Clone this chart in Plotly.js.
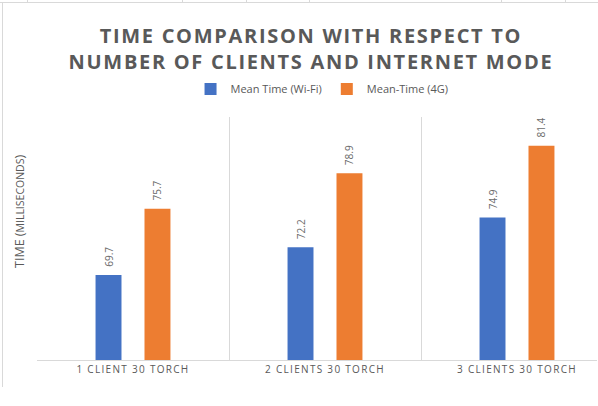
<!DOCTYPE html>
<html>
<head>
<meta charset="utf-8">
<script src="https://cdn.plot.ly/plotly-3.0.1.min.js"></script>
<style>
  html, body { margin: 0; padding: 0; background: #fff; }
  #wrap { position: relative; width: 598px; height: 406px; overflow: hidden; }
  #chart { position: absolute; left: 0; top: 0; width: 598px; height: 406px; }
  .gtitle { letter-spacing: 1.7px; }
  .xtick text { letter-spacing: 1.3px; }
  .deco { position: absolute; background: #d9d9d9; z-index: 5; }
</style>
</head>
<body>
<div id="wrap">
  <div id="chart"></div>
  <div class="deco" style="left:0;top:2px;width:598px;height:1px;"></div>
  <div class="deco" style="left:2px;top:2px;width:1px;height:385px;"></div>
  <div class="deco" style="left:27px;top:0;width:1px;height:3px;"></div>
  <div class="deco" style="left:182px;top:0;width:1px;height:3px;"></div>
  <div class="deco" style="left:246px;top:0;width:1px;height:3px;"></div>
  <div class="deco" style="left:309px;top:0;width:1px;height:3px;"></div>
  <div class="deco" style="left:501px;top:0;width:1px;height:3px;"></div>
  <div class="deco" style="left:565px;top:0;width:1px;height:3px;"></div>
</div>
<script>
const categories = ["1 CLIENT 30 TORCH", "2 CLIENTS 30 TORCH", "3 CLIENTS 30 TORCH"];
const wifiTimes = [69.7, 72.2, 74.9];
const lteTimes = [75.7, 78.9, 81.4];
const seriesNames = ["Mean Time (Wi-Fi)", "Mean-Time (4G)"];
const seriesColors = ["#4472c4", "#ed7d31"];

const labelFont = { family: "Open Sans, sans-serif", size: 10, color: "#6b6b6b" };

const traces = [
  {
    type: "bar", name: seriesNames[0], x: categories, y: wifiTimes,
    marker: { color: seriesColors[0] }, showlegend: false,
    text: wifiTimes.map(v => "\u00a0\u00a0" + v.toFixed(1)),
    textposition: "outside", textangle: -90, textfont: labelFont,
    cliponaxis: false, constraintext: "none", hoverinfo: "y"
  },
  {
    type: "bar", name: seriesNames[1], x: categories, y: lteTimes,
    marker: { color: seriesColors[1] }, showlegend: false,
    text: lteTimes.map(v => "\u00a0\u00a0" + v.toFixed(1)),
    textposition: "outside", textangle: -90, textfont: labelFont,
    cliponaxis: false, constraintext: "none", hoverinfo: "y"
  },
  {
    type: "scatter", mode: "markers", name: seriesNames[0], x: [null], y: [null],
    marker: { symbol: "square", size: 7, color: seriesColors[0] }, showlegend: true
  },
  {
    type: "scatter", mode: "markers", name: seriesNames[1], x: [null], y: [null],
    marker: { symbol: "square", size: 7, color: seriesColors[1] }, showlegend: true
  }
];

const layout = {
  width: 598, height: 406,
  margin: { l: 37, r: 1, t: 117, b: 46 },
  paper_bgcolor: "#ffffff", plot_bgcolor: "#ffffff",
  font: { family: "Open Sans, sans-serif", color: "#595959" },
  barmode: "group", bargap: 0.49, bargroupgap: 0.47,
  title: {
    text: "TIME COMPARISON WITH RESPECT TO<br>NUMBER OF CLIENTS AND INTERNET MODE",
    font: { family: "Open Sans, sans-serif", size: 20, color: "#595959", weight: "bold" },
    x: 0.52, xanchor: "center", xref: "container",
    y: 0.893, yanchor: "middle", yref: "container"
  },
  showlegend: true,
  legend: {
    orientation: "h", x: 0.509, xanchor: "center", y: 1.115, yanchor: "middle",
    font: { family: "Open Sans, sans-serif", size: 11, color: "#595959" },
    itemwidth: 30, itemsizing: "constant", tracegroupgap: 0, bgcolor: "rgba(0,0,0,0)"
  },
  xaxis: {
    type: "category", range: [-0.5, 2.4167], fixedrange: true,
    tickson: "boundaries", showgrid: true, gridcolor: "#d9d9d9", gridwidth: 1,
    showline: true, linecolor: "#d9d9d9", linewidth: 1,
    ticks: "", zeroline: false,
    tickfont: { family: "Open Sans, sans-serif", size: 10, color: "#595959" }
  },
  yaxis: {
    range: [62, 84], showgrid: false, showticklabels: false, ticks: "",
    zeroline: false, showline: false, fixedrange: true
  },
  annotations: [
    {
      text: "TIME (<span style='font-size:10.5px'>MILLISECONDS</span>)",
      xref: "paper", yref: "paper", x: -0.03, y: 0.61,
      xanchor: "center", yanchor: "middle", textangle: -90, showarrow: false,
      font: { family: "Open Sans, sans-serif", size: 12.5, color: "#595959" }
    }
  ]
};

Plotly.newPlot("chart", traces, layout, { displayModeBar: false, staticPlot: true });
</script>
</body>
</html>
